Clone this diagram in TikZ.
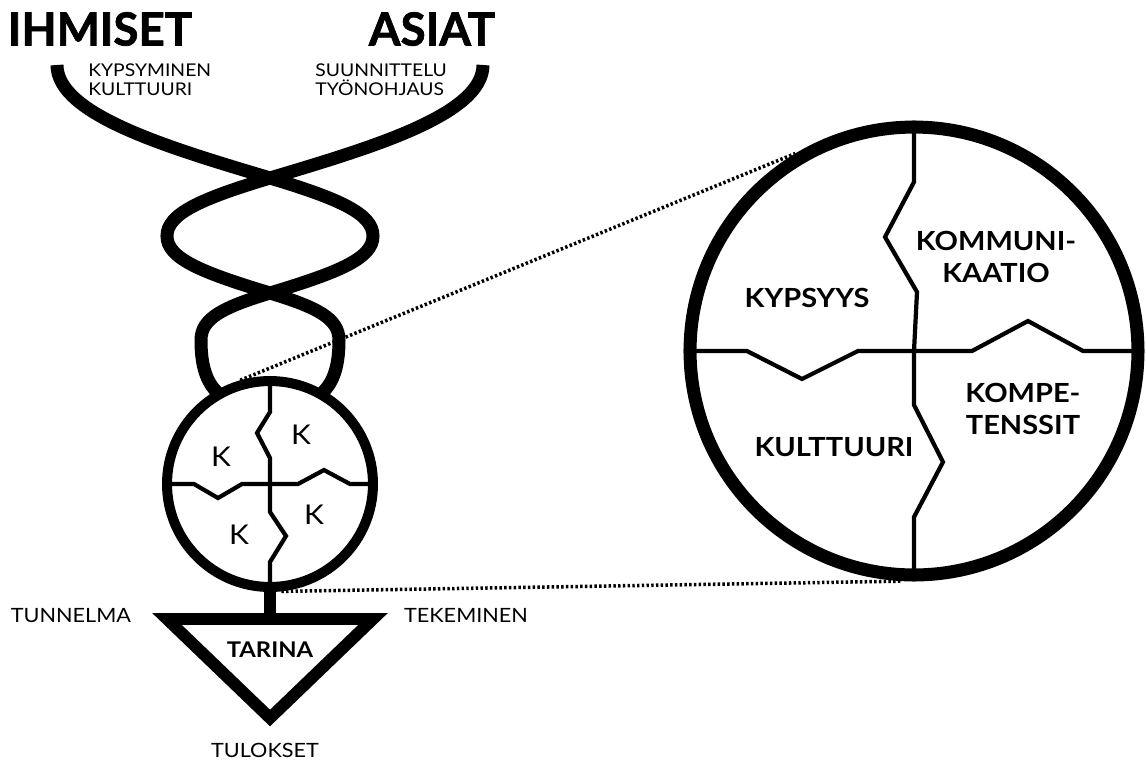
\documentclass[tikz,border=0pt]{standalone}
\usepackage{fontspec}
\setmainfont{Lato}[FakeStretch=1.1]
\newfontfamily\headfont{Lato}[BoldFeatures={FakeBold=1.5}]
\usetikzlibrary{positioning}

\begin{document}
\begin{tikzpicture}[x=0.02cm, y=-0.02cm]
    \tikzstyle{strand} = [line width=7.4pt]
    \tikzstyle{ring} = [circle, draw, inner sep=0pt]
    \tikzstyle{crack} = [line width=2.4pt, line join=miter]
    \tikzstyle{zoomline} = [line width=2pt, dash pattern=on 1.4pt off 1.3pt]
    \tikzstyle{head} = [inner sep=0pt, font=\fontsize{26}{26}\headfont\bfseries]
    \tikzstyle{sub} = [inner sep=0pt, anchor=north west, align=left, font=\fontsize{10}{11.3}\selectfont]
    \tikzstyle{part} = [inner sep=0pt, align=center, font=\fontsize{15}{18.7}\selectfont\bfseries]
    \tikzstyle{kay} = [inner sep=0pt, font=\fontsize{15.5}{16}\selectfont]
    \tikzstyle{side} = [inner sep=0pt, font=\fontsize{11.2}{12}\selectfont]

    \useasboundingbox (0,0) rectangle (1146,762);

    % titles
    \node [head] (ihmiset) at (100,29) {IHMISET};
    \node [head] (asiat) at (432,29) {ASIAT};
    \node [sub] (ihmsub) at (88,63) {KYPSYMINEN\\KULTTUURI};
    \node [sub] (asisub) at (315,63) {SUUNNITTELU\\TYÖNOHJAUS};

    % the two strands
    \draw [strand] (57,65) .. controls (57,115) and (170,148) .. (270,178)
        .. controls (340,199) and (373,214) .. (373,236)
        .. controls (373,258) and (340,272) .. (270,293)
        .. controls (224,307) and (201,318) .. (201,340)
        .. controls (201,365) and (206,382) .. (218,393);
    \draw [strand] (483,65) .. controls (483,115) and (370,148) .. (270,178)
        .. controls (200,199) and (167,214) .. (167,236)
        .. controls (167,258) and (200,272) .. (270,293)
        .. controls (316,307) and (339,318) .. (339,340)
        .. controls (339,365) and (334,382) .. (322,393);

    % small circle
    \node [ring, line width=5.7pt, minimum size=4.12cm] (small) at (270,484) {};
    \draw [crack] (small.north) -- (270,412) -- (257,433) -- (270,458) -- (small.center)
        -- (270,512) -- (286,536) -- (270,562) -- (small.south);
    \draw [crack] (small.west) -- (194,484) -- (218,498) -- (242,484) -- (small.center)
        -- (298,484) -- (324,470) -- (350,484) -- (small.east);
    \node [kay] (k1) at (221,457) {K};
    \node [kay] (k2) at (301,435) {K};
    \node [kay] (k3) at (239,535) {K};
    \node [kay] (k4) at (314,515) {K};

    % stem and triangle
    \coordinate (tl) at (167,619);
    \coordinate (tr) at (373,619);
    \coordinate (tb) at (270,718);
    \coordinate (stem) at (270,619);
    \draw [line width=6.8pt] (small.south) -- (stem);
    \draw [line width=6.8pt, line join=miter] (tl) -- (tr) -- (tb) -- cycle;
    \node [side, font=\fontsize{12.3}{13}\selectfont\bfseries] (tarina) at (270,650) {TARINA};
    \node [side] (tulokset) at (265,750) {TULOKSET};
    \node [side] (tunnelma) at (71,616) {TUNNELMA};
    \node [side] (tekeminen) at (466,615) {TEKEMINEN};

    % big circle
    \node [ring, line width=7.4pt, minimum size=8.96cm] (big) at (914,351) {};
    \draw [crack] (big.north) -- (914,182) -- (885,237) -- (917,292) -- (big.center)
        -- (914,405) -- (943,462) -- (914,517) -- (big.south);
    \draw [crack] (big.west) -- (747,351) -- (802,379) -- (858,351) -- (big.center)
        -- (972,351) -- (1028,321) -- (1083,351) -- (big.east);
    \node [part] (kypsyys) at (807,298) {KYPSYYS};
    \node [part] (kommunikaatio) at (996,257) {KOMMUNI-\\KAATIO};
    \node [part] (kompetenssit) at (1023,409) {KOMPE-\\TENSSIT};
    \node [part] (kulttuuri) at (834,447) {KULTTUURI};

    % zoom lines
    \draw [zoomline] (small.106) -- (big.121);
    \draw [zoomline] (small.-84) -- (big.-93);
\end{tikzpicture}
\end{document}
